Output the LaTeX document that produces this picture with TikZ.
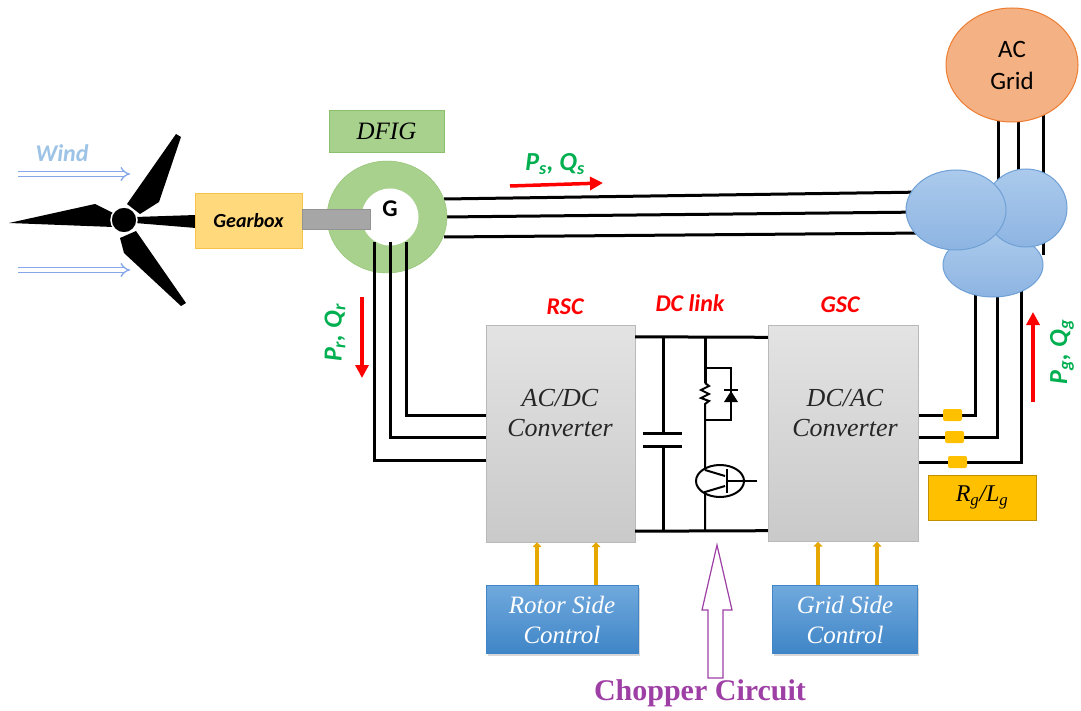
\documentclass[tikz,border=0pt]{standalone}
\usepackage{fontspec}
\setmainfont{Liberation Serif}
\newfontfamily\calibri{Carlito}
\usetikzlibrary{arrows.meta,calc,shapes.geometric,shadows,backgrounds}

\newcommand{\fsz}[2]{\fontsize{#1}{#2}\selectfont}

\definecolor{gearfill}{HTML}{FFD97C}
\definecolor{gearedge}{HTML}{F5C24C}
\definecolor{dfiggreen}{HTML}{A9D18E}
\definecolor{dfigedge}{HTML}{8CBF6B}
\definecolor{xfmrtop}{HTML}{ABCAEC}
\definecolor{xfmrbot}{HTML}{8DB4E2}
\definecolor{xfmredge}{HTML}{6FA0D6}
\definecolor{gridfill}{HTML}{F4B183}
\definecolor{gridedge}{HTML}{ED7D31}
\definecolor{ctrltop}{HTML}{70A9DD}
\definecolor{ctrlbot}{HTML}{3F85C7}
\definecolor{amber}{HTML}{FFC000}
\definecolor{ctlarrow}{HTML}{E6A800}
\definecolor{flowgreen}{HTML}{00B050}
\definecolor{windblue}{HTML}{9DC3E6}
\definecolor{chopviolet}{HTML}{9E3FA5}

\tikzset{
  wire/.style={line width=3pt},
  thin wire/.style={line width=2pt},
  flow/.style={red, line width=3.5pt, -{Triangle[length=13pt,width=13pt]}},
  ctl/.style={ctlarrow, line width=4pt, -{Triangle[length=5pt,width=9pt]}},
  windarrow/.style={draw=windblue!85!blue, line width=1.3pt, double=white, double distance=3.5pt, -{Implies}},
  conv/.style={draw=gray!55, top color=gray!22, bottom color=gray!42, minimum width=149pt, minimum height=217pt, inner sep=0pt},
  convtxt/.style={font=\itshape\fsz{26}{30}, text=black!85, align=center},
  ctrl/.style={top color=ctrltop, bottom color=ctrlbot, draw=ctrlbot, minimum height=68pt, inner sep=0pt,
    font=\itshape\fsz{25}{30}, text=white, align=center,
    drop shadow={opacity=0.3, shadow xshift=1.5pt, shadow yshift=-2pt}},
  xfmr/.style={ellipse, draw=xfmredge, line width=1pt, top color=xfmrtop, bottom color=xfmrbot, inner sep=0pt},
  tag/.style={font=\calibri\bfseries\itshape\fsz{24}{28}, text=red},
  pq/.style={font=\calibri\bfseries\itshape\fsz{26}{30}, text=flowgreen},
  choke/.style={fill=amber, rounded corners=2pt, minimum width=19pt, minimum height=12pt, inner sep=0pt},
}

\begin{document}
\begin{tikzpicture}[x=1pt, y=-1pt, >=Stealth]
    \useasboundingbox (0,0) rectangle (1081,711);

    % turbine
    \fill (9,223) -- (95,204) -- (113,213) -- (113,227) -- cycle;
    \fill (127,204) -- (176,134) -- (181,137) -- (159,202) -- (140,214) -- cycle;
    \fill (136,231) -- (186,303) -- (181,306) -- (124,253) -- (120,238) -- cycle;
    \fill (135,217) -- (196,215) -- (196,228) -- (135,223) -- cycle;
    \draw[white, line width=1.5pt, fill=black] (124,220) circle (13pt);

    \node[text=windblue, font=\calibri\bfseries\itshape\fsz{24}{28}] (wind) at (62,153) {Wind};
    \coordinate (w1a) at (18,174);
    \coordinate (w1b) at (130,174);
    \coordinate (w2a) at (18,270);
    \coordinate (w2b) at (130,270);
    \draw[windarrow] (w1a) -- (w1b);
    \draw[windarrow] (w2a) -- (w2b);

    \node[fill=gearfill, draw=gearedge, minimum width=107pt, minimum height=55pt, inner sep=0pt,
          font=\calibri\bfseries\itshape\fsz{20}{24}] (gear) at (248.5,220.5) {Gearbox};

    % generator
    \node[fill=dfiggreen, draw=dfigedge, minimum width=115pt, minimum height=42pt, inner sep=0pt,
          font=\itshape\fsz{25}{28}] (dfig) at (386.5,131) {DFIG};
    \node[ellipse, fill=dfiggreen, draw=dfigedge, minimum width=120pt, minimum height=112pt, inner sep=0pt] (gen) at (387,217) {};
    \node[circle, fill=white, minimum size=57pt, inner sep=0pt] (rotor) at (390,217) {};
    \node[fill=gray!70, draw=gray!85, minimum width=68pt, minimum height=20pt, inner sep=0pt] (shaft) at (336,219) {};
    \node[font=\calibri\bfseries\fsz{24}{28}] (gtxt) at (390,209) {G};

    % grid and transformer
    \node[ellipse, fill=gridfill, draw=gridedge, line width=1pt, minimum width=132pt, minimum height=114pt,
          inner sep=0pt, align=center, font=\calibri\fsz{25}{32}] (grid) at (1012,65) {AC\\Grid};
    \node[xfmr, minimum width=100pt, minimum height=64pt] (tr3) at (993,265) {};
    \node[xfmr, minimum width=82pt, minimum height=78pt] (tr2) at (1026,208) {};
    \node[xfmr, minimum width=100pt, minimum height=80pt] (tr1) at (956,210) {};

    % converters
    \node[conv] (rsc) at (560.5,433.5) {};
    \node[conv, minimum width=150pt, minimum height=216pt] (gsc) at (843,433.5) {};
    \node[convtxt] (rsctxt) at (560,413) {AC/DC\\Converter};
    \node[convtxt] (gsctxt) at (845,413) {DC/AC\\Converter};
    \node[tag] (rsclbl) at (565,307) {RSC};
    \node[tag] (dclbl) at (690,303) {DC link};
    \node[tag] (gsclbl) at (840,305) {GSC};

    \node[ctrl, minimum width=152pt] (rctrl) at (562,619.5) {Rotor Side\\Control};
    \node[ctrl, minimum width=145pt] (gctrl) at (845,619.5) {Grid Side\\Control};

    \begin{pgfonlayer}{background}
        \fill[white] (0,0) rectangle (1081,711);
        \draw[wire] ($(gen.east)+(-3,-18)$) -- ($(tr1.west)+(20,-18)$);
        \draw[wire] ($(gen.east)+(-3,0)$) -- ($(tr1.west)+(20,2)$);
        \draw[wire] ($(gen.east)+(-3,20)$) -- ($(tr1.west)+(20,23)$);
        \draw[wire] ($(grid.center)+(-14,45)$) -- ++(0,145);
        \draw[wire] ($(grid.center)+(6,45)$) -- ++(0,145);
        \draw[wire] ($(grid.center)+(31,45)$) -- ++(0,145);
        \draw[wire] ($(tr3.center)+(-18,15)$) |- ($(gsc.east)+(0,-18.5)$);
        \draw[wire] ($(tr3.center)+(4,15)$) |- ($(gsc.east)+(0,3.5)$);
        \draw[wire] ($(tr3.center)+(28,15)$) |- ($(gsc.east)+(0,28.5)$);
    \end{pgfonlayer}

    % rotor circuit
    \draw[wire] ($(rotor.south)+(-16,-4)$) |- ($(rsc.west)+(0,26.5)$);
    \draw[wire] ($(rotor.south)+(0,-4)$) |- ($(rsc.west)+(0,3.5)$);
    \draw[wire] ($(rotor.south)+(16,-4)$) |- ($(rsc.west)+(0,-18.5)$);

    \node[choke] (ch1) at (952.5,415) {};
    \node[choke] (ch2) at (954.5,437) {};
    \node[choke] (ch3) at (957.5,462) {};
    \node[fill=amber, draw=amber!75!black, minimum width=108pt, minimum height=45pt, inner sep=0pt,
          font=\itshape\fsz{24}{28}] (rl) at (982,497.5) {R\textsubscript{g}/L\textsubscript{g}};

    % power flows
    \coordinate (ps1) at (510,186);
    \coordinate (ps2) at (603,183);
    \draw[flow] (ps1) -- (ps2);
    \node[pq] (psq) at (555,164) {P\textsubscript{s}, Q\textsubscript{s}};
    \coordinate (pr1) at (362,297);
    \coordinate (pr2) at (362,378);
    \draw[flow] (pr1) -- (pr2);
    \node[pq, rotate=90] (prq) at (335,333) {P\textsubscript{r}, Q\textsubscript{r}};
    \coordinate (pg1) at (1033,402);
    \coordinate (pg2) at (1033,312);
    \draw[flow] (pg1) -- (pg2);
    \node[pq, rotate=90] (pgq) at (1062,352) {P\textsubscript{g}, Q\textsubscript{g}};

    % dc link with chopper
    \coordinate (tl) at ($(rsc.north east)+(0,12)$);
    \coordinate (tr) at ($(gsc.north west)+(0,12)$);
    \coordinate (bl) at ($(rsc.south east)+(0,-11)$);
    \coordinate (br) at ($(gsc.south west)+(0,-11)$);
    \draw[wire] (tl) -- (tr);
    \draw[wire] (bl) -- (br);
    \draw[wire] (663,337) -- (663,433);
    \draw[wire] (663,446) -- (663,531);
    \draw[wire] (643,433) -- (682,433);
    \draw[wire] (643,446) -- (682,446);
    \draw[wire] (705,337) -- (705,383);
    \draw[thin wire] (705,383) -- (709,386) -- (701,390) -- (709,394) -- (701,398) -- (709,401) -- (705,404) -- (705,470);
    \draw[thin wire] (705,368) -- (731,368) -- (731,420) -- (705,420);
    \fill (724,402) -- (738,402) -- (731,391) -- cycle;
    \draw[thin wire] (724,390) -- (738,390);
    \draw[thin wire] (720,481) ellipse (24pt and 16pt);
    \draw[thin wire] (705,470) -- (725,476);
    \draw[thin wire] (725,486) -- (705,492) -- (705,531);
    \draw[thin wire] (727,469) -- (727,493);
    \draw[thin wire] (727,481) -- (757,481);

    % control signals
    \coordinate (c1) at ($(rctrl.north)+(-25,0)$);
    \coordinate (c2) at ($(rctrl.north)+(34,0)$);
    \coordinate (c3) at ($(gctrl.north)+(-27,0)$);
    \coordinate (c4) at ($(gctrl.north)+(32,0)$);
    \draw[ctl] (c1) -- (c1 |- rsc.south);
    \draw[ctl] (c2) -- (c2 |- rsc.south);
    \draw[ctl] (c3) -- (c3 |- gsc.south);
    \draw[ctl] (c4) -- (c4 |- gsc.south);

    \node[text=chopviolet, font=\bfseries\fsz{30}{34}] (choplbl) at (700,693) {Chopper Circuit};
    \draw[chopviolet, line width=1.2pt, fill=white]
        (708,678) -- (708,610) -- (702,610) -- (717,545) -- (732,610) -- (723,610) -- (723,678) -- cycle;
\end{tikzpicture}
\end{document}
